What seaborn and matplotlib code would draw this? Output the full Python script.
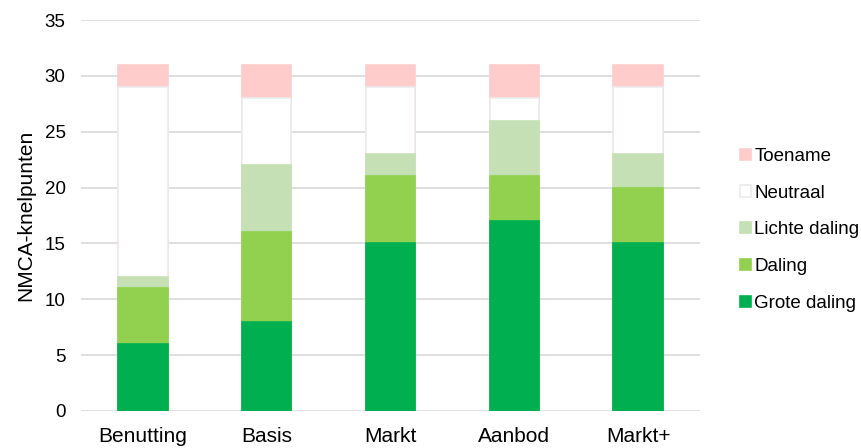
import matplotlib
matplotlib.use("Agg")
import matplotlib.pyplot as plt
import seaborn as sns
import numpy as np
import pandas as pd
from matplotlib.patches import Patch

categories = ["Benutting", "Basis", "Markt", "Aanbod", "Markt+"]
grote_daling = [6, 8, 15, 17, 15]
daling = [5, 8, 6, 4, 5]
lichte_daling = [1, 6, 2, 5, 3]
neutraal = [17, 6, 6, 2, 6]
toename = [2, 3, 2, 3, 2]

series_names = ["Grote daling", "Daling", "Lichte daling", "Neutraal", "Toename"]
series_vals = [grote_daling, daling, lichte_daling, neutraal, toename]
colors = ["#00B050", "#92D050", "#C5E0B4", "#FFFFFF", "#FFCCCC"]
edges = ["#00B050", "#92D050", "#C5E0B4", "#EBEBEB", "#FFCCCC"]

sns.set_theme(style="white")
plt.rcParams["font.family"] = ["Liberation Sans", "DejaVu Sans"]

fig = plt.figure(figsize=(8.61, 4.48), dpi=100)
ax = fig.add_axes([0.094, 0.083, 0.719, 0.872])

cum = np.cumsum(np.array(series_vals), axis=0)
# draw from the top of the stack down so each lower segment overlays
for i in range(len(series_names) - 1, -1, -1):
    df = pd.DataFrame({"cat": categories, "val": cum[i]})
    sns.barplot(data=df, x="cat", y="val", order=categories, color=colors[i],
                saturation=1, width=0.4, edgecolor=edges[i], linewidth=1.2,
                ax=ax, zorder=3)

ax.set_ylim(0, 35)
ax.set_xlim(-0.5, 4.5)
ax.set_yticks(range(0, 36, 5))
ax.yaxis.grid(True, color="#D9D9D9", linewidth=1.2, zorder=0)
ax.set_axisbelow(True)
for s in ax.spines.values():
    s.set_visible(False)
ax.tick_params(axis="both", length=0, colors="#000000")
ax.tick_params(axis="y", pad=11, labelsize=13.5)
ax.tick_params(axis="x", pad=12, labelsize=15)
ax.set_xlabel("")
ax.set_ylabel("NMCA-knelpunten", fontsize=15, color="#000000", labelpad=7)

handles = [Patch(facecolor=colors[i], edgecolor=edges[i], linewidth=1.2)
           for i in range(len(series_names) - 1, -1, -1)]
labels = [series_names[i] for i in range(len(series_names) - 1, -1, -1)]
leg = ax.legend(handles, labels, loc="center left", bbox_to_anchor=(1.065, 0.463),
                frameon=False, fontsize=13.5, handlelength=0.55, handleheight=0.55,
                handletextpad=0.2, labelspacing=1.05, borderaxespad=0, borderpad=0)
for t in leg.get_texts():
    t.set_color("#000000")

fig.savefig("out.png", dpi=100)
